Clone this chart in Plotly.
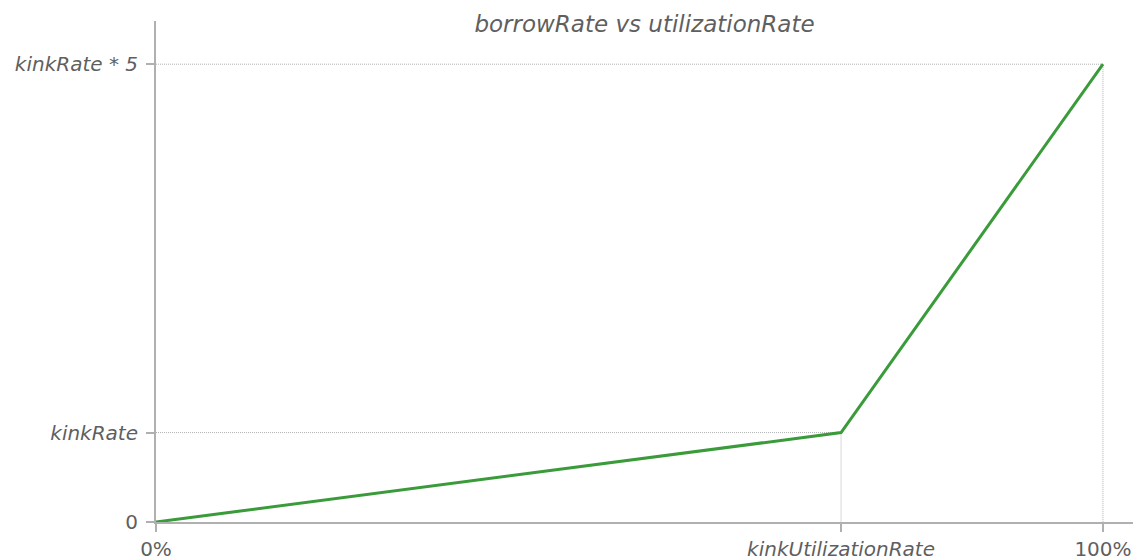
import plotly.graph_objects as go

# Data (y in units of kinkRate, x as fraction of 100%)
utilization = [0.0, 0.7234, 1.0]
borrow_rate = [0.0, 1.0, 5.12]

x_tickvals = [0.0, 0.7234, 1.0]
x_ticktext = ["0%", "<i>kinkUtilizationRate</i>", "100%"]
y_tickvals = [0.0, 1.0, 5.12]
y_ticktext = ["0", "<i>kinkRate</i>", "<i>kinkRate * 5</i>"]

guide_color = "#b0b0b0"
fig = go.Figure()

# dotted guide lines from the axes to each non-origin point
for xv, yv in zip(utilization[1:], borrow_rate[1:]):
    fig.add_trace(go.Scatter(
        x=[0, xv, xv], y=[yv, yv, 0], mode="lines",
        line=dict(color=guide_color, width=1, dash="1px,1px"),
        hoverinfo="skip", showlegend=False,
    ))

fig.add_trace(go.Scatter(
    x=utilization, y=borrow_rate, mode="lines",
    line=dict(color="#3a9b3a", width=3),
    hoverinfo="skip", showlegend=False,
))

axis_color = "#b0b0b0"
fig.update_layout(
    width=1135, height=559,
    margin=dict(l=156, r=2, t=21, b=37, autoexpand=False),
    paper_bgcolor="white", plot_bgcolor="white",
    font=dict(family="DejaVu Sans", size=20, color="#5f5f5f"),
    title=dict(text="<i>borrowRate vs utilizationRate</i>",
               x=0.5, xref="paper", xanchor="center",
               y=1 - 24 / 559, yref="container", yanchor="middle",
               font=dict(family="DejaVu Sans", size=23, color="#5f5f5f")),
)
fig.update_xaxes(
    range=[0, 1.0317], tickvals=x_tickvals, ticktext=x_ticktext,
    showline=True, linecolor=axis_color, linewidth=2,
    ticks="outside", ticklen=8, tickwidth=2, tickcolor=axis_color,
    showgrid=False, zeroline=False, fixedrange=True, automargin=False,
)
fig.update_yaxes(
    range=[0, 5.603], tickvals=y_tickvals, ticktext=y_ticktext,
    showline=True, linecolor=axis_color, linewidth=2,
    ticks="outside", ticklen=8, tickwidth=2, tickcolor=axis_color,
    ticklabelstandoff=4,
    showgrid=False, zeroline=False, fixedrange=True, automargin=False,
)

fig.write_html(
    "out.html",
    config={"displayModeBar": False},
    post_script="document.body.style.margin='0';document.body.style.overflow='hidden';",
)
